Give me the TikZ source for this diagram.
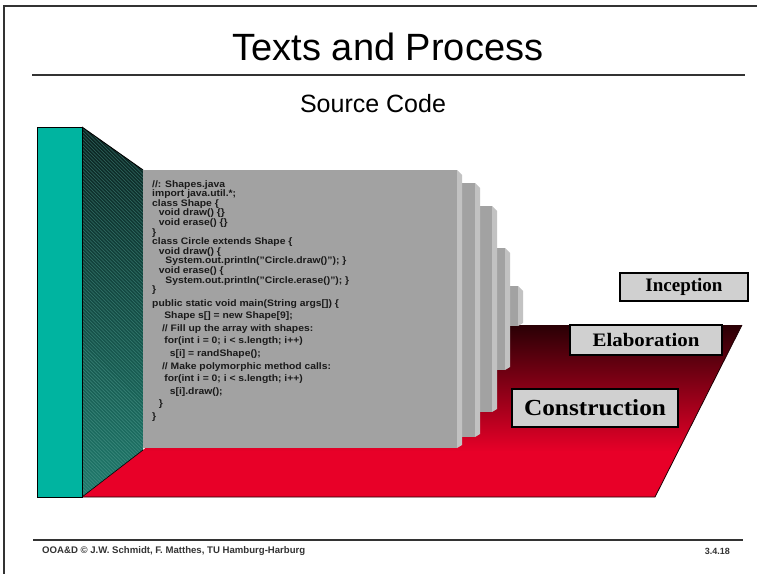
\documentclass[tikz,border=0pt]{standalone}
\usepackage{fontspec}
\setmainfont{Liberation Serif}
\setsansfont{Liberation Sans}
\definecolor{tealbox}{HTML}{00B4A0}
\definecolor{hatchtop}{HTML}{0B2220}
\definecolor{hatchbot}{HTML}{1F7A6C}
\definecolor{hatchln}{HTML}{4E9A8E}
\definecolor{slabgray}{HTML}{A2A2A2}
\definecolor{slablight}{HTML}{C2C2C2}
\definecolor{fbright}{HTML}{E80028}
\definecolor{fmid}{HTML}{A00018}
\definecolor{fdark}{HTML}{2A0005}
\definecolor{lblgray}{HTML}{D0D0D0}
\definecolor{codeink}{HTML}{1A1A1A}
\definecolor{rulegray}{HTML}{333333}
\begin{document}
\begin{tikzpicture}[x=1pt,y=-1pt,
  lbl/.style={draw=black, line width=1.1pt, fill=lblgray, inner sep=0pt,
    font=\bfseries},
  codetext/.style={anchor=north west, inner sep=0pt, align=left, text=codeink,
    font=\sffamily\bfseries},
  rulestyle/.style={draw=rulegray, line width=2pt},
  footstyle/.style={inner sep=0pt, text=rulegray, font=\sffamily\bfseries\fontsize{9.6}{9.6}\selectfont}]
\useasboundingbox (0,0) rectangle (757,573);
% frame
\draw[rulegray, line width=1.4pt] (4,580) -- (4,6) -- (760,6);
% title
\node[font=\sffamily\fontsize{38}{38}\selectfont, inner sep=0pt] (title) at (388,47) {Texts and Process};
\draw[rulestyle] (32,75) -- (745,75);
\node[font=\sffamily\fontsize{25}{25}\selectfont, inner sep=0pt] (src) at (373,104) {Source Code};
% floor
\begin{scope}
  \clip (82,497) -- (655,497) -- (742,325) -- (300,325) -- (143,450) -- cycle;
  \shade[top color=fdark, middle color=fmid, bottom color=fbright] (78,325) rectangle (746,452);
  \fill[fbright] (78,451) rectangle (746,500);
\end{scope}
\draw[fdark!70!black, line width=0.8pt] (82,497) -- (655,497) -- (742,325);
% hatched side
\begin{scope}
  \clip (82,127) -- (143,170) -- (143,450) -- (82,497) -- cycle;
  \shade[top color=hatchtop, bottom color=hatchbot] (80,125) rectangle (145,499);
  \foreach \c in {40,43.5,...,500}
    \draw[hatchln, line width=0.7pt, opacity=0.55] (82,\c) -- (143,\c+61);
\end{scope}
\draw[black, line width=0.9pt] (82,127) -- (143,170);
\draw[black, line width=0.6pt] (82,497) -- (143,450);
% slabs, back to front
\foreach \xa/\xb/\ya/\yb in {510/523/286/326, 497/510/248/370, 480/497/206/412, 460/480/183/437, 143/462/170/448}{
  \fill[slabgray] (\xa,\ya) rectangle (\xb-5,\yb);
  \fill[slablight] (\xb-5,\ya) -- (\xb-2,\ya+3) -- (\xb,\ya+5) -- (\xb,\yb-3) -- (\xb-5,\yb) -- cycle;
}
% code text
\node[codetext, xscale=1.1, font=\sffamily\bfseries\fontsize{9.4}{9.6}\selectfont] (codeA) at (152,180) {%
//: Shapes.java\\
import java.util.*;\\
class Shape \{\\
\hspace*{6pt}void draw() \{\}\\
\hspace*{6pt}void erase() \{\}\\
\}\\
class Circle extends Shape \{\\
\hspace*{6pt}void draw() \{\\
\hspace*{12pt}System.out.println("Circle.draw()"); \}\\
\hspace*{6pt}void erase() \{\\
\hspace*{12pt}System.out.println("Circle.erase()"); \}\\
\}};
\node[codetext, xscale=1.1, font=\sffamily\bfseries\fontsize{9.4}{12.6}\selectfont] (codeB) at (152,299) {%
public static void main(String args[]) \{\\
\hspace*{11pt}Shape s[] = new Shape[9];\\
\hspace*{9pt}// Fill up the array with shapes:\\
\hspace*{11pt}for(int i = 0; i < s.length; i++)\\
\hspace*{16pt}s[i] = randShape();\\
\hspace*{9pt}// Make polymorphic method calls:\\
\hspace*{11pt}for(int i = 0; i < s.length; i++)\\
\hspace*{16pt}s[i].draw();\\
\hspace*{6pt}\}\\
\}};
% teal box
\fill[tealbox, draw=black, line width=0.9pt] (37,127) rectangle (82,497);
% labels
\node[lbl, minimum width=128pt, minimum height=28pt, font=\bfseries\fontsize{19}{19}\selectfont] (inc) at (684,287) {Inception};
\node[lbl, minimum width=152pt, minimum height=30pt, font=\bfseries\fontsize{19}{19}\selectfont] (ela) at (646,340) {\scalebox{1.1}[1]{Elaboration}};
\node[lbl, minimum width=166pt, minimum height=38pt, font=\bfseries\fontsize{23}{23}\selectfont] (con) at (595,408) {\scalebox{1.1}[1]{Construction}};
% footer
\draw[rulestyle, line width=2.6pt] (33,540) -- (743,540);
\node[footstyle, anchor=west] (foot) at (42,551) {OOA\&D © J.W. Schmidt, F. Matthes, TU Hamburg-Harburg};
\node[footstyle, anchor=east, font=\sffamily\bfseries\fontsize{9}{9}\selectfont] (page) at (730,551) {3.4.18};
\end{tikzpicture}
\end{document}
